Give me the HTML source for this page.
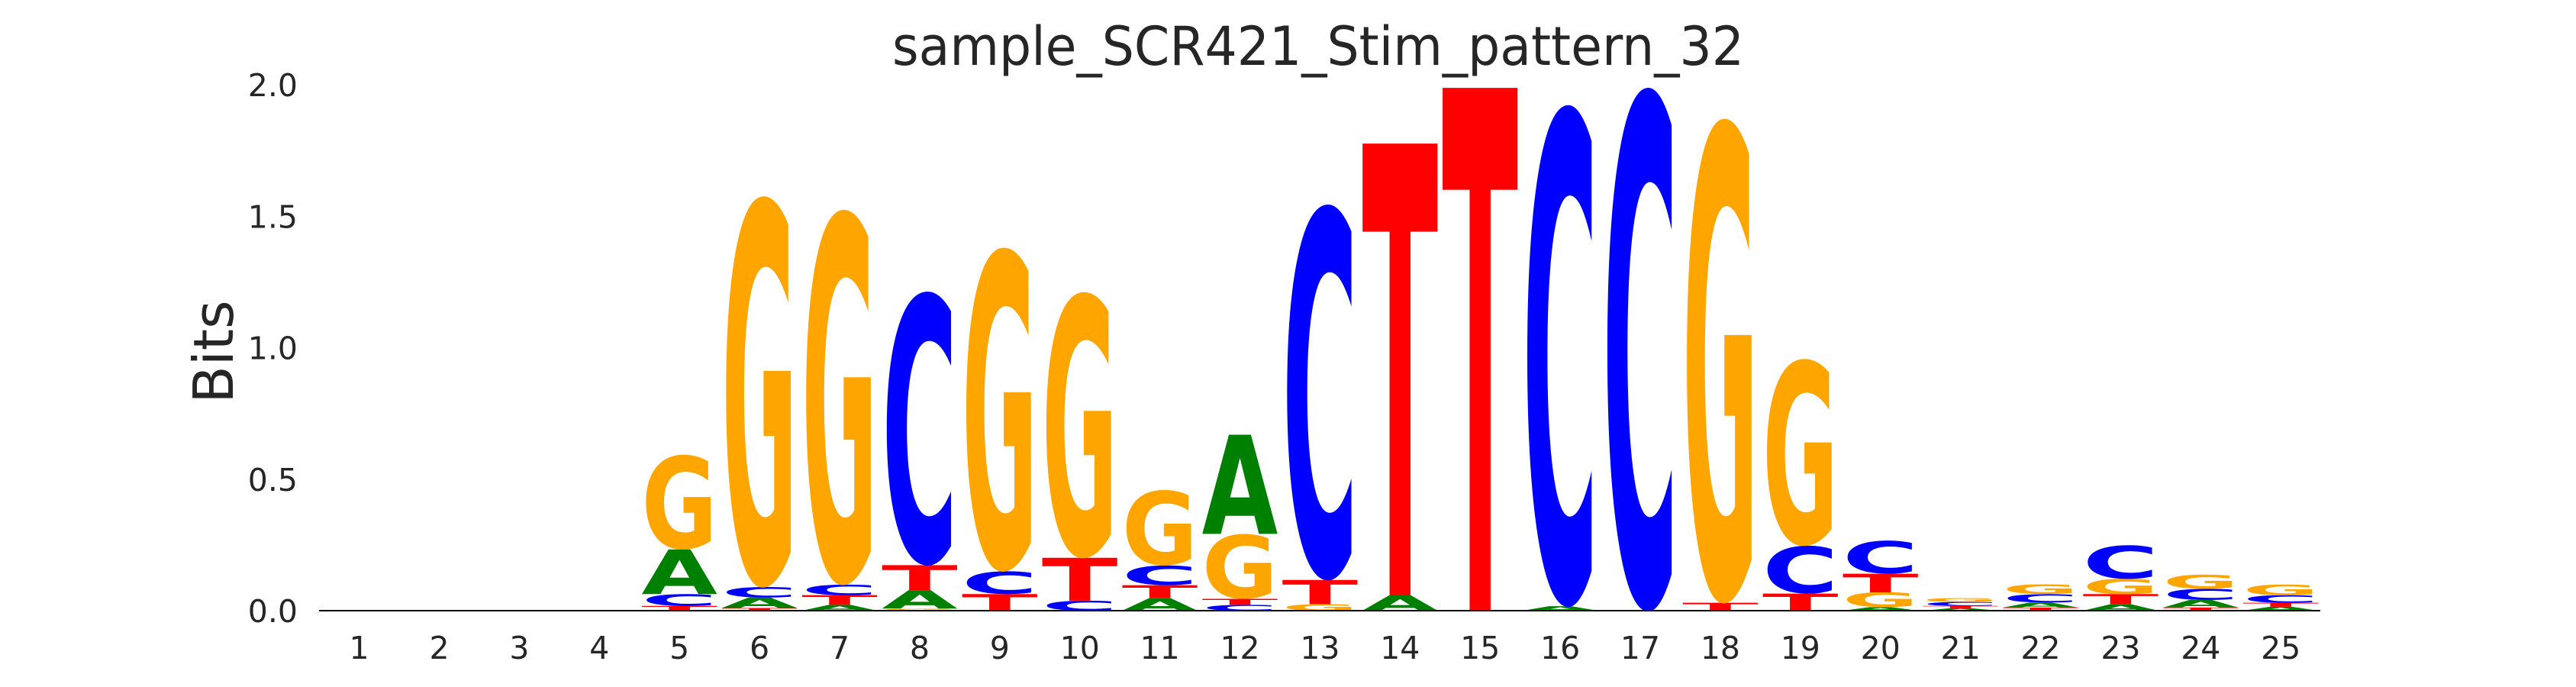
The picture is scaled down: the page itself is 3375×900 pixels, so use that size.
<!DOCTYPE html>
<html><head><meta charset="utf-8"><style>
html,body{margin:0;padding:0;background:#fff;overflow:hidden;width:3375px;height:900px;}
svg{display:block;}
</style></head><body>
<svg id="chart" width="3375" height="900" viewBox="0 0 3375 900" overflow="hidden" xmlns="http://www.w3.org/2000/svg">
<text x="1727" y="85" font-family="DejaVu Sans, Liberation Sans, sans-serif" font-size="70" fill="#262626" text-anchor="middle" textLength="1116" lengthAdjust="spacingAndGlyphs">sample_SCR421_Stim_pattern_32</text>
<text transform="translate(305,461) rotate(-90)" font-family="DejaVu Sans, Liberation Sans, sans-serif" font-size="72" fill="#262626" text-anchor="middle">Bits</text>
<g id="yticks"></g><g id="xticks"></g><g id="letters"></g>
<line x1="418" y1="800" x2="3040" y2="800" stroke="#000" stroke-width="2"/>
</svg>
<script>
const positions = [1,2,3,4,5,6,7,8,9,10,11,12,13,14,15,16,17,18,19,20,21,22,23,24,25];
const valsA = [0,0,0,0,0.17,0.04,0.022,0.07,0,0,0.047,0.377,0,0.058,0,0.017,0,0,0,0.0135,0.009,0.019,0.024,0.029,0.015];
const valsC = [0,0,0,0,0.045,0.04,0.04,1.04,0.087,0.038,0.075,0.022,1.427,0,0,1.905,1.988,0,0.182,0.126,0.015,0.032,0.128,0.042,0.029];
const valsG = [0,0,0,0,0.36,1.485,1.425,0.008,1.23,1.01,0.287,0.247,0.025,0,0,0,0,1.84,0.71,0.056,0.016,0.036,0.058,0.055,0.041];
const valsT = [0,0,0,0,0.018,0.01,0.037,0.095,0.063,0.163,0.05,0.023,0.092,1.718,1.988,0,0,0.03,0.065,0.071,0.009,0.012,0.039,0.012,0.015];
const yTicks = [0,0.5,1.0,1.5,2.0];
const yTickLabels = ["0.0","0.5","1.0","1.5","2.0"];

const NS = "http://www.w3.org/2000/svg";
const X0 = 470.6, DX = 104.9, Y0 = 800, PXB = 344.5;
function xScale(p){ return X0 + (p-1)*DX; }
function yScale(v){ return Y0 - v*PXB; }
const colors = {A:"#008000", C:"#0000ff", G:"#ffa500", T:"#ff0000"};
const font = "DejaVu Sans, Liberation Sans, sans-serif";

const yt = document.getElementById('yticks');
yTicks.forEach((v,i)=>{
  const t = document.createElementNS(NS,'text');
  
  
  t.setAttribute('x',390); t.setAttribute('y',yScale(v)+15);
  t.setAttribute('text-anchor','end'); t.setAttribute('font-family',font);
  t.setAttribute('font-size','41'); t.setAttribute('fill','#262626');
  t.textContent = yTickLabels[i]; yt.appendChild(t);
});
const xt = document.getElementById('xticks');
positions.forEach(p=>{
  const t = document.createElementNS(NS,'text');
  
  
  t.setAttribute('x',xScale(p)); t.setAttribute('y',863);
  t.setAttribute('text-anchor','middle'); t.setAttribute('font-family',font);
  t.setAttribute('font-size','41'); t.setAttribute('fill','#262626');
  t.textContent = String(p); xt.appendChild(t);
});
const lg = document.getElementById('letters');
const W = DX*0.95;
positions.forEach((p,i)=>{
  const stack = [['A',valsA[i]],['C',valsC[i]],['G',valsG[i]],['T',valsT[i]]].filter(s=>s[1]>0).sort((a,b)=>a[1]-b[1]);
  let cum = 0;
  stack.forEach(([b,v])=>{
    const yb = yScale(cum), h = yScale(cum)-yScale(cum+v);
    cum += v;
    const t = document.createElementNS(NS,'text');
    
    
    t.setAttribute('x',0); t.setAttribute('y',0);
    t.setAttribute('font-family',font); t.setAttribute('font-weight','bold');
    t.setAttribute('font-size','100'); t.setAttribute('fill',colors[b]);
    t.setAttribute('textLength',W.toFixed(2));
    t.setAttribute('lengthAdjust','spacingAndGlyphs');
    const round = (b==='C'||b==='G');
    const sy = round ? h/75.5 : h/72.9;
    const ty = round ? yb - 1.3*sy : yb;
    t.setAttribute('transform','translate('+(xScale(p)-W/2).toFixed(2)+','+ty.toFixed(2)+') scale(1,'+sy.toFixed(5)+')');
    t.textContent = b; lg.appendChild(t);
  });
});
</script>
</body></html>
